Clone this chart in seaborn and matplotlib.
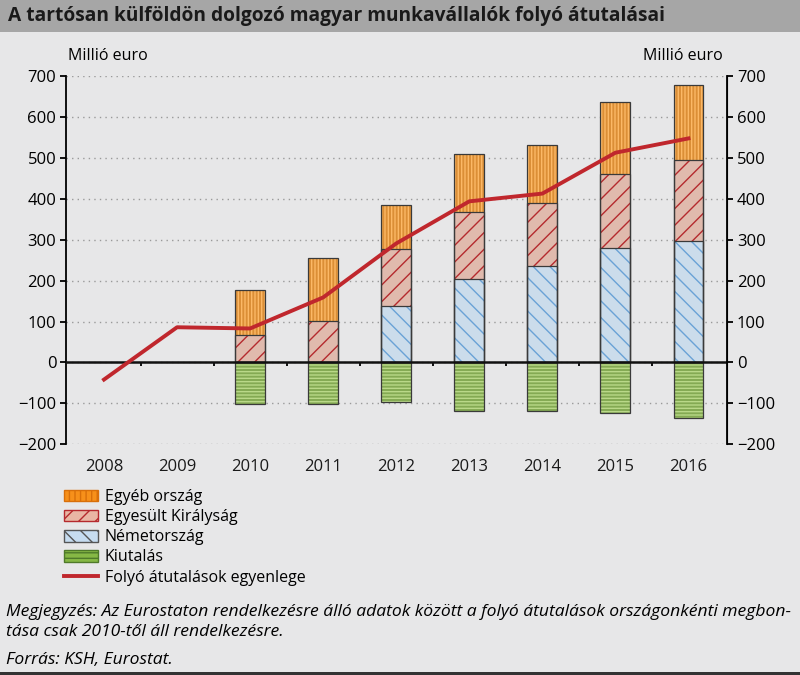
import matplotlib
matplotlib.use('Agg')
import matplotlib.pyplot as plt
from matplotlib.patches import Patch
from matplotlib.lines import Line2D
import seaborn as sns
import pandas as pd
import numpy as np

# adatok (millió euro), leolvasva az ábráról
years = ['2008', '2009', '2010', '2011', '2012', '2013', '2014', '2015', '2016']
bar_years = ['2010', '2011', '2012', '2013', '2014', '2015', '2016']
nemetorszag = [0, 0, 139, 203, 235, 279, 298]
egyesult_kiralysag = [67, 101, 139, 164, 154, 183, 196]
egyeb_orszag = [110, 155, 108, 144, 144, 174, 184]
kiutalas = [-101, -101, -97, -120, -120, -125, -136]
egyenleg = [-42, 86, 83, 159, 291, 394, 413, 513, 548]

df = pd.DataFrame({'YEAR': bar_years, 'DE': nemetorszag, 'UK': egyesult_kiralysag,
                   'EGYEB': egyeb_orszag, 'KIUT': kiutalas})
df['UK_CUM'] = df['DE'] + df['UK']
df['TOTAL'] = df['UK_CUM'] + df['EGYEB']
df_line = pd.DataFrame({'YEAR': years, 'VAL': egyenleg})

bg = '#e7e7e8'
plt.rcParams['font.family'] = ['Open Sans', 'DejaVu Sans']
plt.rcParams['hatch.linewidth'] = 1.0

fig = plt.figure(figsize=(8, 6.75), dpi=100, facecolor=bg)
ax = fig.add_axes([0.0825, 0.342, 0.8265, 0.545])
ax.set_facecolor(bg)

# rétegek: (oszlop, kitöltés, sraffozás, sraffozás színe)
layers = [
    ('TOTAL', '#f7901a', '|||||', '#fcb866'),
    ('UK_CUM', '#e9b6a4', '//', '#b52a2e'),
    ('DE', '#c6dcf0', '\\\\', '#6aa2d6'),
    ('KIUT', '#86b845', '-----', '#b9d888'),
]
for col, face, hatch, hcol in layers:
    sns.barplot(data=df, x='YEAR', y=col, order=years, color=face, width=0.41,
                errorbar=None, hatch=hatch, edgecolor=hcol, linewidth=0, ax=ax, zorder=2)
    sns.barplot(data=df, x='YEAR', y=col, order=years, color='#3a3a3a', fill=False,
                width=0.41, errorbar=None, linewidth=0.9, ax=ax, zorder=3)

sns.lineplot(data=df_line, x='YEAR', y='VAL', color='#c0272d', linewidth=2.8, ax=ax,
             zorder=5, sort=False)

ax.set_xlim(-0.52, 8.53)
ax.set_ylim(-200, 700)
ax.set_yticks(range(-200, 701, 100))
ax.set_xlabel('')
ax.set_ylabel('')
ax.grid(axis='y', color='#9a9a9a', linestyle=(0, (1, 3)), linewidth=1, zorder=0)
ax.set_axisbelow(True)
for s in ['top', 'bottom']:
    ax.spines[s].set_visible(False)
ax.spines['left'].set_linewidth(1.3)
ax.tick_params(axis='x', length=0, pad=11, labelsize=12, colors='#1a1a1a')
ax.tick_params(axis='y', direction='out', length=4, width=1.3, labelsize=12, pad=3)
ax.axhline(0, color='#111111', linewidth=1.8, zorder=4)

# kis osztásjelek a nullvonalon
zero = ax.secondary_xaxis(0, transform=ax.transData)
zero.set_xticks(np.arange(0.5, 8, 1))
zero.set_xticklabels([])
zero.tick_params(length=3, width=1.3, direction='out')
zero.spines['bottom'].set_visible(False)

ax2 = ax.twinx()
ax2.set_ylim(-200, 700)
ax2.set_yticks(range(-200, 701, 100))
for s in ['top', 'bottom', 'left']:
    ax2.spines[s].set_visible(False)
ax2.spines['right'].set_linewidth(1.3)
ax2.tick_params(axis='y', direction='out', length=4, width=1.3, labelsize=12, pad=3)

fig.text(0.085, 0.905, 'Millió euro', fontsize=11.5, ha='left', va='bottom')
fig.text(0.903, 0.905, 'Millió euro', fontsize=11.5, ha='right', va='bottom')

# fejléc sáv
fig.patches.append(plt.Rectangle((0, 0.952), 1, 0.048, transform=fig.transFigure,
                                 facecolor='#a6a6a6', edgecolor='none', zorder=0))
fig.text(0.01, 0.976, 'A tartósan külföldön dolgozó magyar munkavállalók folyó átutalásai',
         fontsize=13.8, fontweight='bold', ha='left', va='center', color='#1a1a1a')
fig.patches.append(plt.Rectangle((0, 0.0), 1, 0.004, transform=fig.transFigure,
                                 facecolor='#333333', edgecolor='none', zorder=0))

handles = [
    Patch(facecolor='#f7901a', edgecolor='#d86f0a', hatch='|||', label='Egyéb ország'),
    Patch(facecolor='#e9b6a4', edgecolor='#b52a2e', hatch='//', label='Egyesült Királyság'),
    Patch(facecolor='#c6dcf0', edgecolor='#555555', hatch='\\\\', label='Németország'),
    Patch(facecolor='#86b845', edgecolor='#4f7a2a', hatch='---', label='Kiutalás'),
    Line2D([0], [0], color='#c0272d', linewidth=2.8, label='Folyó átutalások egyenlege'),
]
fig.legend(handles=handles, loc='upper left', bbox_to_anchor=(0.072, 0.285), frameon=False,
           fontsize=11.5, handlelength=2.1, handleheight=0.75, labelspacing=0.26,
           handletextpad=0.45, borderaxespad=0)

note = dict(fontsize=12.6, style='italic', ha='left', va='center')
fig.text(0.008, 0.093, 'Megjegyzés: Az Eurostaton rendelkezésre álló adatok között a folyó '
         'átutalások országonkénti megbon-', **note)
fig.text(0.008, 0.063, 'tása csak 2010-től áll rendelkezésre.', **note)
fig.text(0.008, 0.022, 'Forrás: KSH, Eurostat.', **note)

fig.savefig('out.png', dpi=100, facecolor=bg)
